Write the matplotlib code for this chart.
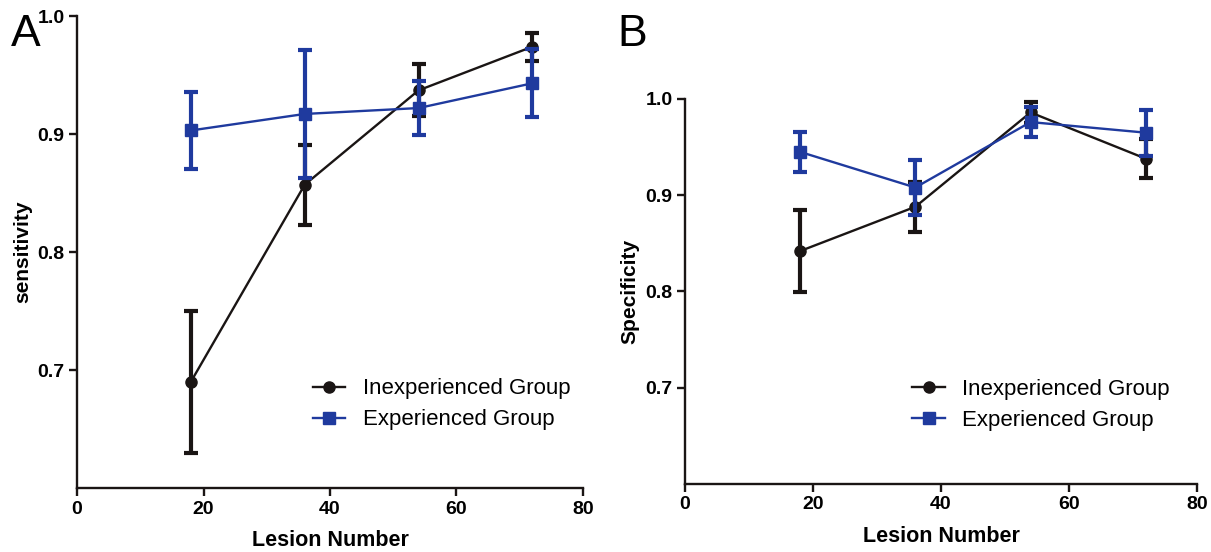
import numpy as np
import matplotlib.pyplot as plt

plt.rcParams["font.family"] = ["Liberation Sans", "DejaVu Sans"]

lesions = [18, 36, 54, 72]

# panel A: sensitivity
sens_inexp = [0.690, 0.857, 0.937, 0.974]
sens_inexp_err = [0.060, 0.034, 0.022, 0.012]
sens_exp = [0.903, 0.917, 0.922, 0.943]
sens_exp_err = [0.033, 0.054, 0.023, 0.029]

# panel B: specificity
spec_inexp = [0.842, 0.888, 0.986, 0.938]
spec_inexp_err = [0.043, 0.026, 0.011, 0.020]
spec_exp = [0.945, 0.908, 0.976, 0.965]
spec_exp_err = [0.021, 0.029, 0.016, 0.024]

black = "#1a1514"
blue = "#1f3a9e"

fig = plt.figure(figsize=(12.11, 5.52), dpi=100)
axA = fig.add_axes([0.0636, 0.1159, 0.4178, 0.8551])
axB = fig.add_axes([0.5656, 0.1232, 0.4228, 0.6975])


def draw(ax, inexp, inexp_err, exp, exp_err, ylabel, leg_anchor):
    ax.errorbar(lesions, inexp, yerr=inexp_err, fmt="none", ecolor=black,
                elinewidth=3, capsize=5, capthick=3, zorder=2)
    l1, = ax.plot(lesions, inexp, color=black, lw=1.7, marker="o", ms=8,
                  zorder=3, label="Inexperienced Group")
    ax.errorbar(lesions, exp, yerr=exp_err, fmt="none", ecolor=blue,
                elinewidth=3, capsize=5, capthick=3, zorder=4)
    l2, = ax.plot(lesions, exp, color=blue, lw=1.7, marker="s", ms=8,
                  zorder=5, label="Experienced Group")

    ax.set_xlim(0, 80)
    ax.set_ylim(0.6, 1.0)
    ax.set_xticks([0, 20, 40, 60, 80])
    ax.set_yticks([0.7, 0.8, 0.9, 1.0])
    ax.set_yticklabels(["0.7", "0.8", "0.9", "1.0"])
    for s in ["top", "right"]:
        ax.spines[s].set_visible(False)
    for s in ["left", "bottom"]:
        ax.spines[s].set_linewidth(1.7)
        ax.spines[s].set_color(black)
    ax.tick_params(width=1.7, length=6, labelsize=14, color=black, pad=3)
    for t in ax.get_xticklabels() + ax.get_yticklabels():
        t.set_fontweight("bold")
    ax.set_xlabel("Lesion Number", fontsize=15.5, fontweight="bold", labelpad=9)
    ax.set_ylabel(ylabel, fontsize=15, fontweight="bold", labelpad=4)
    ax.legend(handles=[l1, l2], loc="center left", bbox_to_anchor=leg_anchor,
              frameon=False, fontsize=16, handlelength=1.45, handletextpad=0.8,
              labelspacing=0.45, borderaxespad=0)


draw(axA, sens_inexp, sens_inexp_err, sens_exp, sens_exp_err,
     "sensitivity", (0.448, 0.177))
draw(axB, spec_inexp, spec_inexp_err, spec_exp, spec_exp_err,
     "Specificity", (0.427, 0.205))

fig.text(0.009, 0.975, "A", fontsize=32, va="top", ha="left")
fig.text(0.510, 0.975, "B", fontsize=32, va="top", ha="left")

plt.savefig("out.png", dpi=100)
plt.close()
